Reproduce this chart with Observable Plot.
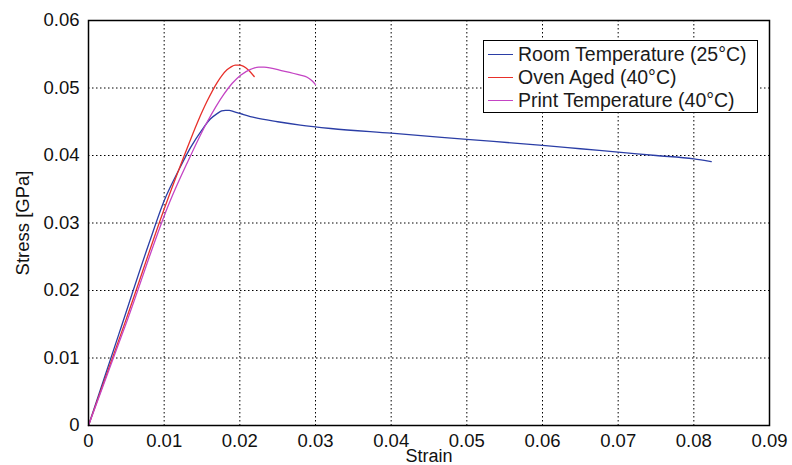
<!DOCTYPE html>
<html>
<head>
<meta charset="utf-8">
<script src="https://cdn.jsdelivr.net/npm/d3@7"></script>
<script src="https://cdn.jsdelivr.net/npm/@observablehq/plot@0.6"></script>
<style>
  html, body { margin: 0; padding: 0; background: #fff; }
  #wrap { position: relative; width: 792px; height: 465px; font-family: "Liberation Sans", Arial, sans-serif; }
  #legend { position: absolute; left: 483px; top: 40px; width: 275px; height: 73px; border: 1.5px solid #000; background: #fff; box-sizing: border-box; }
  .row { position: absolute; left: 4px; height: 22px; display: flex; align-items: center; font-size: 19.5px; color: #1a1a1a; white-space: nowrap; }
  .sw { width: 25px; height: 0; border-top: 1.3px solid; margin-right: 5px; }
</style>
</head>
<body>
<div id="wrap"></div>
<script>
const seriesNames = ["Room Temperature (25°C)", "Oven Aged (40°C)", "Print Temperature (40°C)"];
const seriesColors = ["#2b3ea6", "#e8302a", "#c444c4"];

const roomStrain = [0, 0.004, 0.008, 0.01, 0.012, 0.0135, 0.015, 0.0161, 0.017, 0.0176, 0.0181, 0.0186, 0.0192, 0.0201, 0.022, 0.025, 0.028, 0.032, 0.04, 0.05, 0.06, 0.065, 0.07, 0.075, 0.08, 0.0823];
const roomStress = [0, 0.0135, 0.027, 0.0333, 0.0380, 0.0412, 0.0438, 0.0454, 0.0462, 0.0466, 0.0467, 0.0467, 0.0465, 0.0462, 0.0456, 0.0450, 0.0445, 0.0440, 0.0433, 0.0424, 0.0415, 0.0410, 0.0405, 0.0400, 0.0395, 0.0391];

const ovenStrain = [0, 0.005, 0.0104, 0.0126, 0.0144, 0.0157, 0.017, 0.0176, 0.0183, 0.0188, 0.0194, 0.0199, 0.0205, 0.0212, 0.0219];
const ovenStress = [0, 0.0158, 0.0333, 0.0398, 0.0449, 0.0481, 0.0508, 0.0518, 0.0527, 0.0531, 0.0534, 0.0534, 0.0532, 0.0526, 0.0517];

const printStrain = [0, 0.005, 0.0108, 0.013, 0.0157, 0.0179, 0.019, 0.0201, 0.0215, 0.0225, 0.0232, 0.0258, 0.028, 0.0289, 0.0295, 0.030];
const printStress = [0, 0.0152, 0.0333, 0.0388, 0.0450, 0.0491, 0.0507, 0.0519, 0.0528, 0.0531, 0.0531, 0.0525, 0.0519, 0.0516, 0.0511, 0.0505];

const xTicks = [0, 0.01, 0.02, 0.03, 0.04, 0.05, 0.06, 0.07, 0.08, 0.09];
const yTicks = [0, 0.01, 0.02, 0.03, 0.04, 0.05, 0.06];

const strains = [roomStrain, ovenStrain, printStrain];
const stresses = [roomStress, ovenStress, printStress];
const data = [];
strains.forEach((xs, s) => xs.forEach((x, i) => data.push({series: seriesNames[s], strain: x, stress: stresses[s][i]})));

const fmt = d => d === 0 ? "0" : d.toFixed(2);

const chart = Plot.plot({
  width: 792,
  height: 465,
  marginLeft: 88,
  marginRight: 23,
  marginTop: 20,
  marginBottom: 40,
  style: { fontFamily: "Liberation Sans, Arial, sans-serif", fontSize: "18.5px", background: "#fff", color: "#111" },
  x: { domain: [0, 0.09] },
  y: { domain: [0, 0.06] },
  color: { domain: seriesNames, range: seriesColors },
  marks: [
    Plot.gridX(xTicks, { stroke: "#000", strokeOpacity: 1, strokeWidth: 1, strokeDasharray: "1.5,2.5" }),
    Plot.gridY(yTicks, { stroke: "#000", strokeOpacity: 1, strokeWidth: 1, strokeDasharray: "1.5,2.5" }),
    Plot.line(data, { x: "strain", y: "stress", z: "series", stroke: "series", strokeWidth: 1.3, curve: "monotone-x" }),
    Plot.frame({ stroke: "#000", strokeWidth: 1.5 }),
    Plot.axisX(xTicks, { tickSize: 0, tickPadding: 8, tickFormat: fmt, label: "Strain", labelAnchor: "center", labelArrow: "none", labelOffset: 36 }),
    Plot.axisY(yTicks, { tickSize: 0, tickPadding: 9, tickFormat: fmt, label: "Stress [GPa]", labelAnchor: "center", labelArrow: "none", labelOffset: 73 })
  ]
});

const wrap = document.getElementById("wrap");
wrap.appendChild(chart);

const setSize = (sel, size) => chart.querySelectorAll(sel).forEach(g => {
  g.setAttribute("font-size", size);
  g.querySelectorAll("text").forEach(t => t.setAttribute("font-size", size));
});
setSize("[aria-label='x-axis tick label']", "18.5");
setSize("[aria-label='y-axis tick label']", "18.5");
setSize("[aria-label='x-axis label']", "18");
setSize("[aria-label='y-axis label']", "18.5");

const legend = document.createElement("div");
legend.id = "legend";
seriesNames.forEach((name, i) => {
  const row = document.createElement("div");
  row.className = "row";
  row.style.top = (2 + i * 23) + "px";
  const sw = document.createElement("span");
  sw.className = "sw";
  sw.style.borderColor = seriesColors[i];
  row.appendChild(sw);
  row.appendChild(document.createTextNode(name));
  legend.appendChild(row);
});
wrap.appendChild(legend);
</script>
</body>
</html>
